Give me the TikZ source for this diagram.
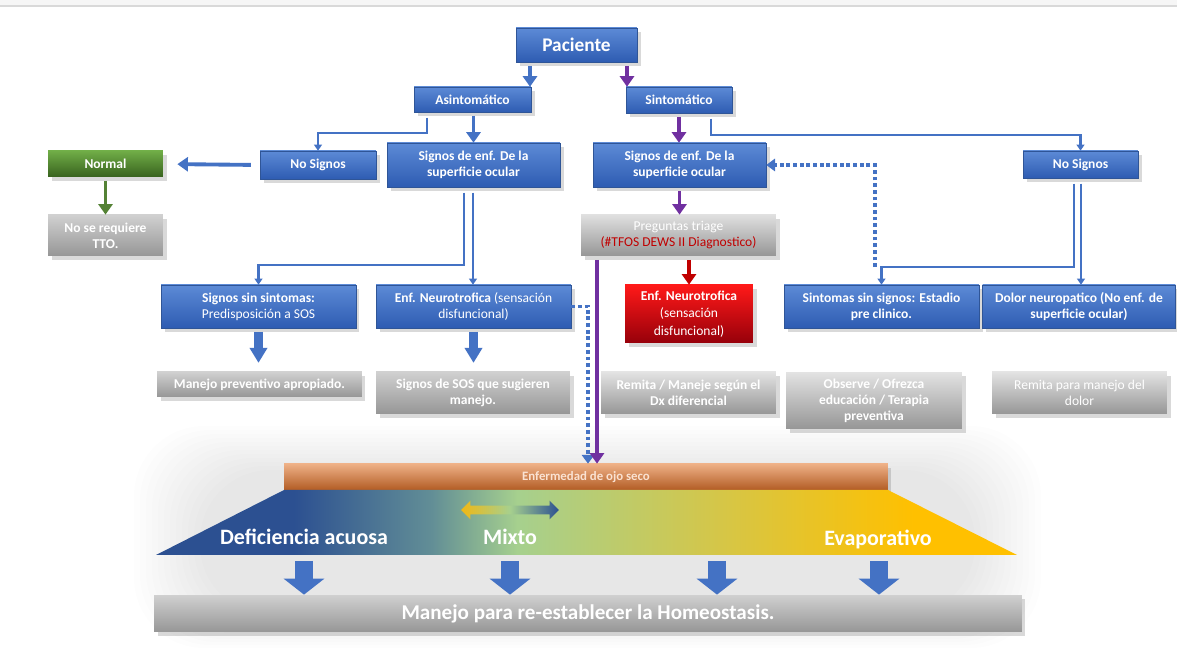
\documentclass[tikz,border=0pt]{standalone}
\usepackage{fontspec}
\setmainfont{Carlito}
\usetikzlibrary{arrows.meta,positioning,calc,shadows,shapes.arrows}

\definecolor{bxtop}{RGB}{92,138,214}
\definecolor{bxbot}{RGB}{46,92,178}
\definecolor{bxline}{RGB}{47,85,151}
\definecolor{grtop}{RGB}{208,208,208}
\definecolor{grbot}{RGB}{150,150,150}
\definecolor{gntop}{RGB}{112,173,71}
\definecolor{gnbot}{RGB}{56,98,30}
\definecolor{rdtop}{RGB}{255,25,25}
\definecolor{rdbot}{RGB}{150,0,10}
\definecolor{arblue}{RGB}{68,114,196}
\definecolor{arpurple}{RGB}{112,48,160}
\definecolor{argreen}{RGB}{84,130,53}
\definecolor{arred}{RGB}{192,0,0}
\definecolor{ortop}{RGB}{238,176,134}
\definecolor{orbot}{RGB}{178,92,36}
\definecolor{ortext}{RGB}{250,226,210}
\definecolor{dblue}{RGB}{44,80,145}
\definecolor{teal}{RGB}{98,142,150}
\definecolor{lgreen}{RGB}{166,208,142}
\definecolor{ochre}{RGB}{214,198,70}
\definecolor{amber}{RGB}{255,192,0}
\definecolor{mixyel}{RGB}{240,184,20}

\pgfdeclarehorizontalshading{dryeye}{100bp}{color(0bp)=(dblue); color(25bp)=(dblue); color(33bp)=(dblue); color(41bp)=(teal); color(46bp)=(lgreen); color(58bp)=(ochre); color(69bp)=(amber); color(75bp)=(amber); color(100bp)=(amber)}

\begin{document}
\begin{tikzpicture}[x=0.02cm,y=-0.02cm,font=\fontsize{7.7}{9.1}\selectfont\bfseries,
  shad/.style={drop shadow={shadow xshift=2pt,shadow yshift=-2pt,opacity=.3}},
  bluebox/.style={shad,draw=bxline,line width=.3pt,top color=bxtop,bottom color=bxbot,text=white,align=center,inner sep=1pt},
  greybox/.style={shad,top color=grtop,bottom color=grbot,text=white,align=center,inner sep=1pt},
  greenbox/.style={shad,top color=gntop,bottom color=gnbot,text=white,align=center,inner sep=1pt},
  redbox/.style={shad,top color=rdtop,bottom color=rdbot,text=white,align=center,inner sep=1pt},
  tharrow/.style={line width=2.2pt,-{Triangle[width=8pt,length=6pt]},shorten <=2pt},
  elarrow/.style={arblue,line width=1.3pt,-{Triangle[width=4.5pt,length=3.5pt]},shorten <=3pt},
  blkarrow/.style={arblue,line width=5.4pt,-{Triangle[width=.34cm,length=.3cm]},shorten <=2pt,shorten >=5pt},
  dotarrow/.style={arblue,line width=2pt,dash pattern=on 2.2pt off 1.6pt,-{Triangle[width=7pt,length=5pt]}},
  bigarrow/.style={arblue,line width=.36cm,-{Triangle[width=.8cm,length=.32cm]}},
  bigtext/.style={text=white,font=\fontsize{12.5}{14}\selectfont\bfseries}]
\useasboundingbox (0,0) rectangle (1177,671);
% top band and soft glow behind the spectrum
\fill[gray!7] (0,0) rectangle (1177,6);
\draw[gray!30,line width=.6pt] (0,6) -- (1177,6);
\foreach \i in {0,...,11}
  \fill[black,opacity=.008,rounded corners={40pt}] ({200-6*\i},{470-4*\i}) rectangle ({975+6*\i},{615+3*\i});

% first levels
\node[bluebox,minimum width=2.42cm,minimum height=.68cm,font=\fontsize{11}{13}\selectfont\bfseries] (pac) at (576.5,45) {Paciente};
\node[bluebox,minimum width=2.34cm,minimum height=.5cm] (asin) at (472.5,99.5) {Asintomático};
\node[bluebox,minimum width=2.12cm,minimum height=.52cm] (sint) at (679,100) {Sintomático};
\node[greenbox,minimum width=2.30cm,minimum height=.52cm] (normal) at (105.5,164) {Normal};
\node[bluebox,minimum width=2.32cm,minimum height=.56cm] (nosigA) at (318,165) {No Signos};
\node[bluebox,minimum width=3.46cm,minimum height=.88cm] (signA) at (473.5,165) {Signos de enf. De la\\superficie ocular};
\node[bluebox,minimum width=3.46cm,minimum height=.88cm] (signB) at (679.5,165) {Signos de enf. De la\\superficie ocular};
\node[bluebox,minimum width=2.30cm,minimum height=.54cm] (nosigB) at (1080.5,164.5) {No Signos};
\node[greybox,minimum width=2.30cm,minimum height=.82cm] (tto) at (105.5,235.5) {No se requiere\\TTO.};
\node[greybox,minimum width=3.90cm,minimum height=.82cm,top color=gray!25] (preg) at (678.5,235.5) {{\mdseries Preguntas triage}\\{\mdseries\color{arred}(\#TFOS DEWS II Diagnostico)}};

% second levels
\node[bluebox,minimum width=3.90cm,minimum height=.86cm] (ssint) at (258.5,306.5) {Signos sin sintomas:\\{\mdseries Predisposición a SOS}};
\node[bluebox,minimum width=3.90cm,minimum height=.86cm] (neuroA) at (473.5,306.5) {Enf. Neurotrofica {\mdseries(sensación}\\{\mdseries disfuncional)}};
\node[redbox,minimum width=2.56cm,minimum height=1.16cm] (neuroB) at (689,314) {Enf. Neurotrofica\\[1pt]{\mdseries(sensación}\\[1pt]{\mdseries disfuncional)}};
\node[bluebox,minimum width=3.90cm,minimum height=.86cm] (ssig) at (881.5,306.5) {Sintomas sin signos: Estadio\\pre clinico.};
\node[bluebox,minimum width=3.86cm,minimum height=.86cm] (dolor) at (1079,306.5) {Dolor neuropatico (No enf. de\\superficie ocular)};

% management boxes
\node[greybox,minimum width=4.10cm,minimum height=.50cm] (manejoA) at (259.5,384.5) {Manejo preventivo apropiado.};
\node[greybox,minimum width=3.88cm,minimum height=.84cm] (sosA) at (473,393) {Signos de SOS que sugieren\\manejo.};
\node[greybox,minimum width=3.50cm,minimum height=.84cm,top color=gray!22] (remitaA) at (688.5,393) {Remita / Maneje según el\\Dx diferencial};
\node[greybox,minimum width=3.52cm,minimum height=1.14cm,top color=gray!22] (observe) at (874,400.5) {Observe / Ofrezca\\educación / Terapia\\preventiva};
\node[greybox,minimum width=3.50cm,minimum height=.84cm,top color=gray!22] (remitaB) at (1079.5,393) {\mdseries Remita para manejo del\\\mdseries dolor};

% dry eye spectrum
\node[shad,top color=ortop,bottom color=orbot,text=ortext,minimum width=12.08cm,minimum height=.52cm,font=\fontsize{7.3}{9}\selectfont\bfseries] (bar) at (586,477) {Enfermedad de ojo seco};
\shade[shading=dryeye] (284,490) -- (888,490) -- (1017,555) -- (156,555) -- cycle;
\node[bigtext] (defic) at (304,537) {Deficiencia acuosa};
\node[bigtext] (mixto) at (510,537) {Mixto};
\node[bigtext] (evap) at (878,540) {Evaporativo};
\node[double arrow,left color=mixyel,right color=dblue,middle color=lgreen,minimum height=1.96cm,inner xsep=0pt,inner ysep=.08cm,double arrow head extend=.1cm] (mixarr) at (510,510) {};
\node[greybox,minimum width=17.36cm,minimum height=.74cm,font=\fontsize{12}{14}\selectfont\bfseries] (homeo) at (588,613.5) {Manejo para re-establecer la Homeostasis.};

% connectors
\draw[tharrow,arblue] (530,0 |- pac.south) -- (530,0 |- asin.north);
\draw[tharrow,arpurple] (627,0 |- pac.south) -- (627,0 |- sint.north);
\draw[elarrow] (427,0 |- asin.south) -- (427,133) -| (nosigA.north);
\draw[tharrow,arblue] (signA.north |- asin.south) -- (signA.north);
\draw[tharrow,arblue,shorten >=8pt,shorten <=5pt] (nosigA.west) -- (normal.east);
\draw[tharrow,argreen] (normal.south) -- (tto.north);
\draw[elarrow] (464,0 |- signA.south) -- (464,265) -| (ssint.north);
\draw[elarrow] (473,0 |- signA.south) -- (473,0 |- neuroA.north);
\draw[blkarrow] (ssint.south) -- (ssint.south |- manejoA.north);
\draw[blkarrow] (neuroA.south) -- (neuroA.south |- sosA.north);
\draw[dotarrow] (neuroA.east) -| (588,0 |- bar.north);
\draw[tharrow,arpurple] (sint.south) -- (sint.south |- signB.north);
\draw[elarrow] (711,0 |- sint.south) -- (711,135) -| (nosigB.north);
\draw[tharrow,arpurple] (signB.south) -- (signB.south |- preg.north);
\draw[tharrow,arpurple] (597,0 |- preg.south) -- (597,0 |- bar.north);
\draw[tharrow,arred] (neuroB.north |- preg.south) -- (neuroB.north);
\draw[elarrow] (1074,0 |- nosigB.south) -- (1074,267) -| (ssig.north);
\draw[elarrow] (1081,0 |- nosigB.south) -- (1081,0 |- dolor.north);
\draw[dotarrow,shorten <=10pt] (875,0 |- ssig.north) |- (signB.east);
\foreach \x in {304,510,717,879}
  \draw[bigarrow] (\x,561) -- (\x,0 |- homeo.north);
\end{tikzpicture}
\end{document}
